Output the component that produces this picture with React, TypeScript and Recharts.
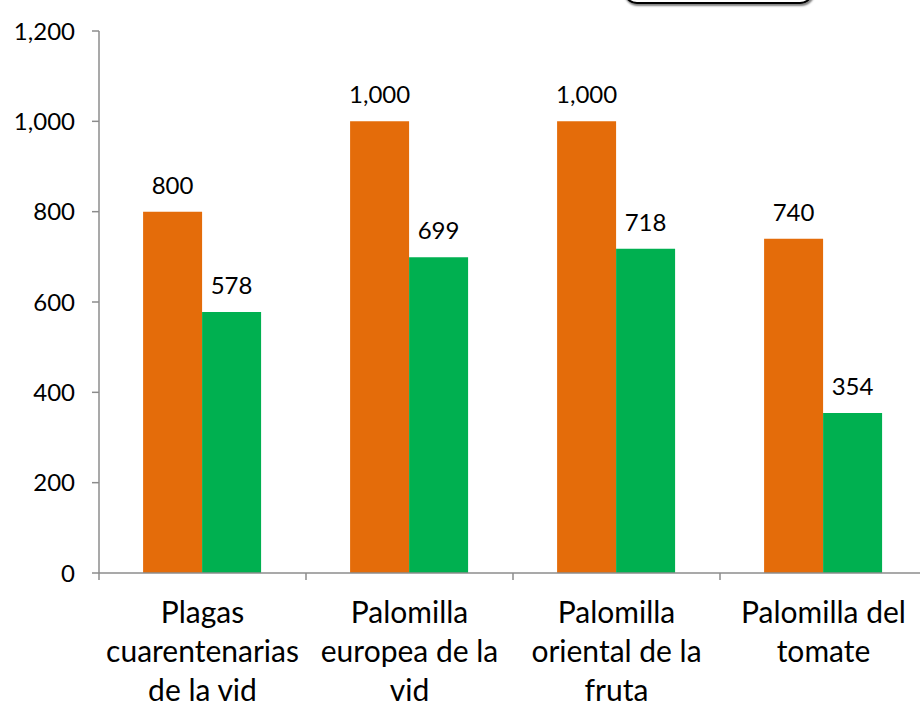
import React from 'react';
import { BarChart, Bar, XAxis, YAxis, LabelList } from 'recharts';

const categories = [
  'Plagas cuarentenarias de la vid',
  'Palomilla europea de la vid',
  'Palomilla oriental de la fruta',
  'Palomilla del tomate',
];
const categoryLines = [
  ['Plagas', 'cuarentenarias', 'de la vid'],
  ['Palomilla', 'europea de la', 'vid'],
  ['Palomilla', 'oriental de la', 'fruta'],
  ['Palomilla del', 'tomate'],
];
const seriesOrange = [800, 1000, 1000, 740];
const seriesGreen = [578, 699, 718, 354];
const yTicks = [0, 200, 400, 600, 800, 1000, 1200];

const data = categories.map((c, i) => ({
  name: c,
  a: seriesOrange[i],
  b: seriesGreen[i],
  idx: i,
}));

const FONT = 'Lato, "Open Sans", sans-serif';
const AXIS = '#8c8c8c';
const fmt = (v: any) => Number(v).toLocaleString('en-US');

const XTick = (props: any) => {
  const { x, y, payload, index } = props;
  const off = payload && payload.offset != null ? payload.offset : 0;
  const lines = categoryLines[payload?.index ?? index] || [String(payload.value)];
  return (
    <g>
      <line x1={x - off} x2={x - off} y1={y} y2={y + 7} stroke={AXIS} strokeWidth={1.5} />
      <text textAnchor="middle" fontFamily={FONT} fontSize={30} fill="#000">
        {lines.map((l: string, i: number) => (
          <tspan key={i} x={x} y={y + 50 + i * 39}>
            {l}
          </tspan>
        ))}
      </text>
    </g>
  );
};

export default function App() {
  return (
    <div
      style={{
        position: 'fixed',
        left: 0,
        top: 0,
        width: 920,
        height: 701,
        overflow: 'hidden',
        background: '#fff',
      }}
    >
      <BarChart
        width={940}
        height={701}
        data={data}
        margin={{ top: 31, right: 13, left: 0, bottom: 0 }}
        barCategoryGap="21.3%"
        barGap={0}
      >
        <YAxis
          width={99}
          domain={[0, 1200]}
          ticks={yTicks}
          interval={0}
          tickFormatter={fmt}
          axisLine={{ stroke: AXIS, strokeWidth: 1.5 }}
          tickLine={{ stroke: AXIS, strokeWidth: 1.5 }}
          tickSize={7}
          tickMargin={17}
          tick={{ fontFamily: FONT, fontSize: 24, fill: '#000' }}
        />
        <XAxis
          dataKey="name"
          height={128}
          interval={0}
          axisLine={{ stroke: AXIS, strokeWidth: 1.5 }}
          tickLine={false}
          tickSize={0}
          tickMargin={0}
          tick={<XTick />}
        />
        <Bar dataKey="a" fill="#E46C0A" isAnimationActive={false}>
          <LabelList
            dataKey="a"
            position="top"
            offset={18}
            formatter={fmt}
            style={{ fontFamily: FONT, fontSize: 24, fill: '#000' }}
          />
        </Bar>
        <Bar dataKey="b" fill="#00B050" isAnimationActive={false}>
          <LabelList
            dataKey="b"
            position="top"
            offset={18}
            formatter={fmt}
            style={{ fontFamily: FONT, fontSize: 24, fill: '#000' }}
          />
        </Bar>
      </BarChart>
      <div
        style={{
          position: 'absolute',
          left: 623,
          top: -40,
          width: 187,
          height: 40,
          border: '2px solid #000',
          borderRadius: 14,
          boxShadow: '1px 2px 2px rgba(0,0,0,0.5)',
        }}
      />
    </div>
  );
}
